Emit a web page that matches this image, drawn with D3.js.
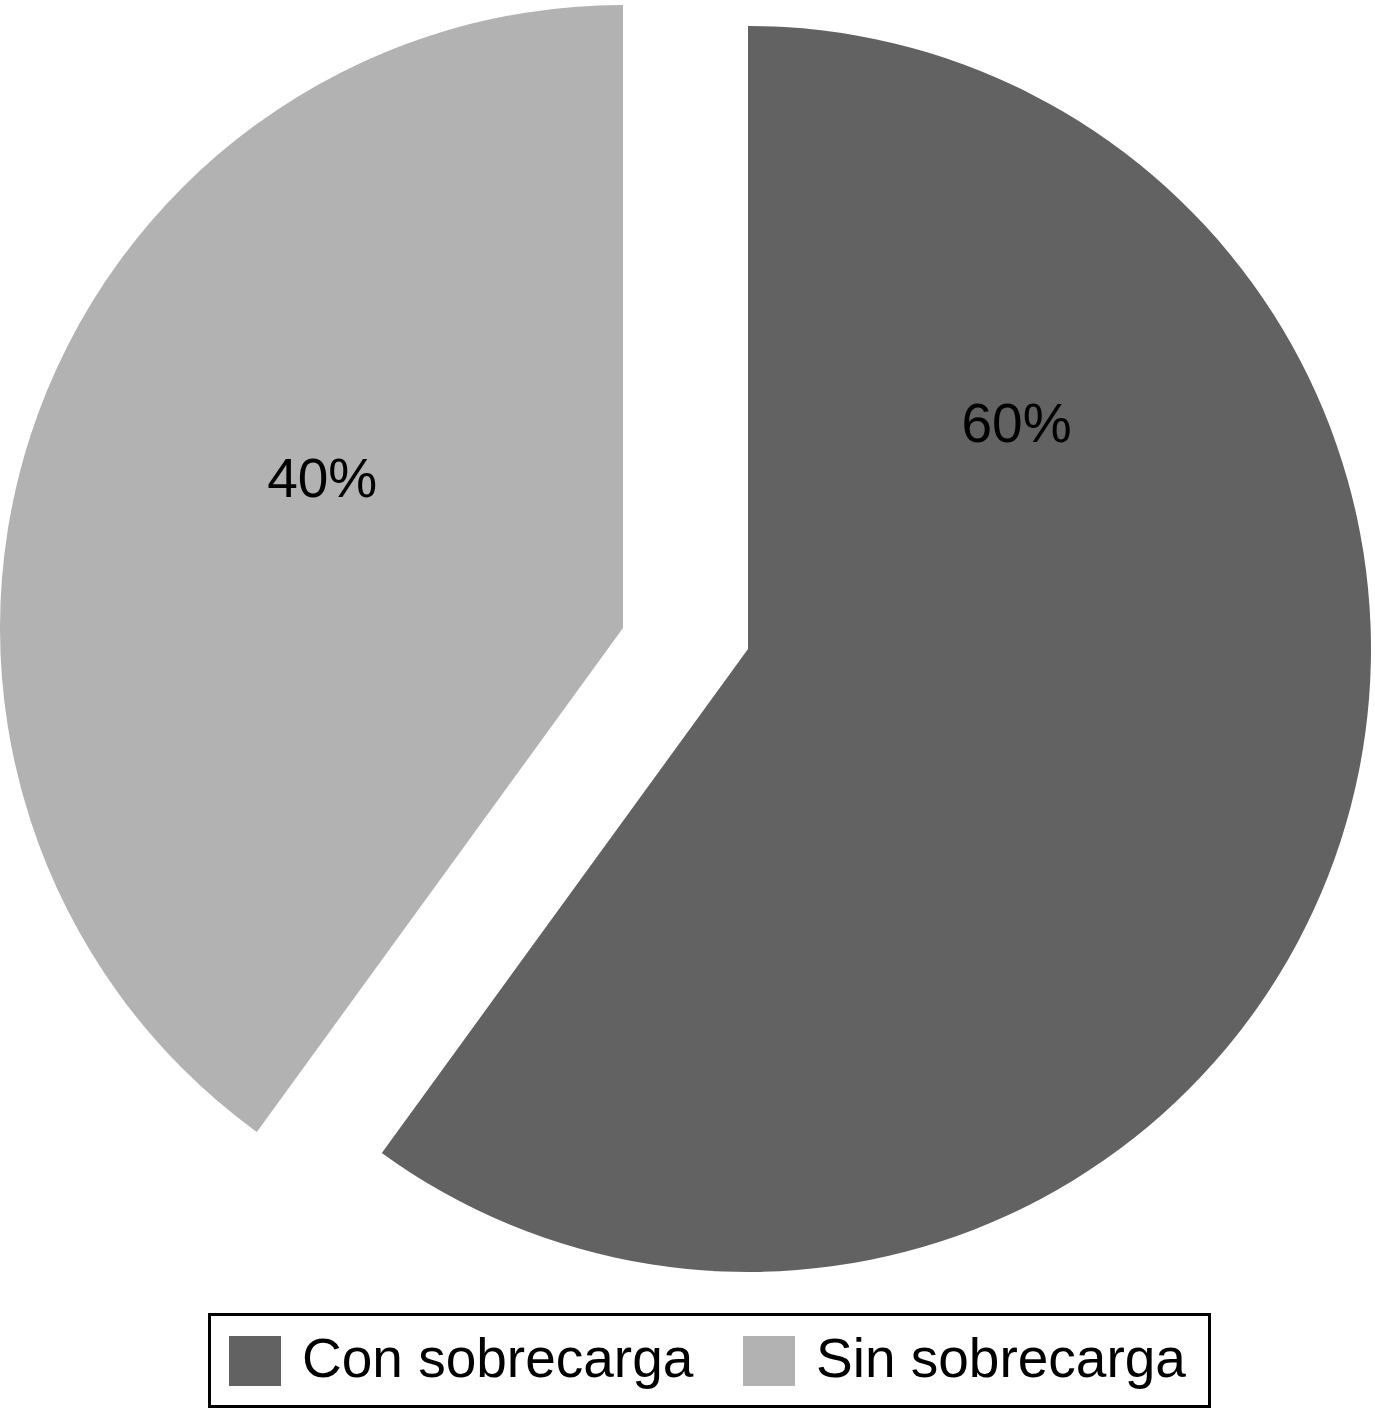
<!DOCTYPE html>
<html>
<head>
<meta charset="utf-8">
<script src="https://cdn.jsdelivr.net/npm/d3@7"></script>
<style>
  html, body { margin: 0; padding: 0; background: #fff; }
  svg { display: block; }
  text { font-family: "Liberation Sans", Arial, Helvetica, sans-serif; fill: #000; }
</style>
</head>
<body>
<script>
// data
const categories = ['Con sobrecarga', 'Sin sobrecarga'];
const values = [60, 40];
const labels = ['60%', '40%'];

// layout
const width = 1375, height = 1410;
const center = [685.5, 638.5];
const radius = 623;
// each slice is pulled out of the pie by its own offset
const explode = [[62.5, 10.5], [-62.5, -10.5]];
// label placement relative to each slice's own centre: [angle in degrees, distance]
const labelPolar = [[52.4, 339], [293.5, 328]];
const colors = d3.scaleOrdinal().domain(categories).range(['#626262', '#b2b2b2']);

const svg = d3.select('body').append('svg')
  .attr('width', width)
  .attr('height', height);

const pie = d3.pie().sort(null).value(d => d.value);
const arc = d3.arc().innerRadius(0).outerRadius(radius);

const data = pie(categories.map((c, i) => ({ name: c, value: values[i], label: labels[i], i })));

const slices = svg.selectAll('g.slice')
  .data(data)
  .enter()
  .append('g')
  .attr('class', 'slice')
  .attr('transform', d => {
    const o = explode[d.data.i];
    return `translate(${center[0] + o[0]},${center[1] + o[1]})`;
  });

slices.append('path')
  .attr('d', arc)
  .attr('fill', d => colors(d.data.name));

slices.append('text')
  .attr('x', d => {
    const [a, r] = labelPolar[d.data.i];
    return Math.sin(a * Math.PI / 180) * r;
  })
  .attr('y', d => {
    const [a, r] = labelPolar[d.data.i];
    return -Math.cos(a * Math.PI / 180) * r;
  })
  .attr('text-anchor', 'middle')
  .attr('font-size', 55)
  .text(d => d.data.label);

// legend
const legend = svg.append('g');
legend.append('rect')
  .attr('x', 209.5)
  .attr('y', 1314.5)
  .attr('width', 1000)
  .attr('height', 92)
  .attr('fill', '#fff')
  .attr('stroke', '#000')
  .attr('stroke-width', 3);

const itemX = [229, 743];
const items = legend.selectAll('g.item')
  .data(categories)
  .enter()
  .append('g')
  .attr('class', 'item')
  .attr('transform', (d, i) => `translate(${itemX[i]},1336)`);

items.append('rect')
  .attr('width', 52)
  .attr('height', 50)
  .attr('fill', d => colors(d));

items.append('text')
  .attr('x', 73)
  .attr('y', 41)
  .attr('font-size', 55)
  .text(d => d);
</script>
</body>
</html>
